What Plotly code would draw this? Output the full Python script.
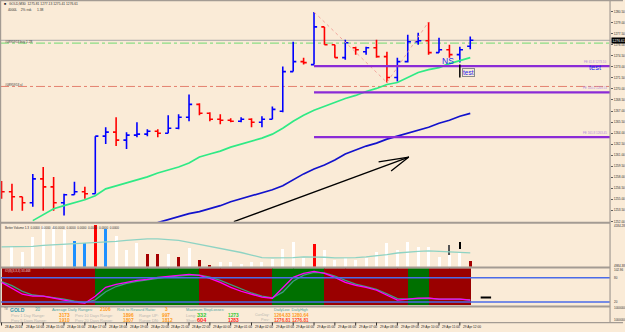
import plotly.graph_objects as go

W, H = 625, 332
BG = "#FAEBD7"
FONT = "Arial"
SEP = "#A39B93"

# ---------------- data ----------------
bar_idx = list(range(46))
opens = [1256.97, 1256.03, 1255.35, 1254.54, 1257.78, 1256.70, 1254.54, 1255.62, 1256.03, 1255.76,
         1263.59, 1264.13, 1263.05, 1263.72, 1263.86, 1264.26, 1263.99, 1264.67, 1266.15, 1267.91,
         1266.69, 1265.88, 1265.75, 1265.61, 1265.88, 1265.48, 1265.88, 1266.96, 1272.36, 1273.71,
         1273.31, 1278.43, 1276.01, 1274.25, 1275.60, 1275.06, 1275.60, 1274.39, 1271.55, 1273.71,
         1276.41, 1276.55, 1274.93, 1275.33, 1274.66, 1275.81]
highs = [1257.51, 1257.11, 1255.35, 1258.46, 1259.40, 1258.05, 1255.76, 1257.38, 1256.70, 1263.59,
         1264.80, 1266.15, 1264.13, 1265.48, 1264.53, 1264.53, 1266.42, 1266.56, 1269.26, 1268.04,
         1266.82, 1266.56, 1266.02, 1266.15, 1266.02, 1266.29, 1267.63, 1273.04, 1276.41, 1274.25,
         1280.46, 1278.43, 1276.01, 1276.68, 1275.74, 1275.74, 1276.68, 1275.06, 1274.25, 1277.36,
         1277.63, 1279.11, 1276.95, 1276.01, 1275.74, 1277.13]
lows = [1255.08, 1253.46, 1253.46, 1254.00, 1253.46, 1253.46, 1252.79, 1255.62, 1255.08, 1255.76,
        1262.51, 1262.24, 1261.83, 1263.45, 1263.59, 1263.45, 1263.99, 1264.53, 1265.61, 1266.42,
        1265.61, 1265.21, 1265.48, 1265.48, 1264.80, 1264.80, 1265.88, 1266.82, 1272.36, 1273.31,
        1273.31, 1276.01, 1274.25, 1273.98, 1274.66, 1274.66, 1274.25, 1270.88, 1271.01, 1273.58,
        1276.01, 1274.66, 1274.93, 1274.25, 1273.58, 1275.41]
closes = [1256.03, 1255.35, 1254.54, 1257.78, 1256.70, 1254.54, 1255.62, 1256.03, 1255.76, 1263.59,
          1264.13, 1263.05, 1263.72, 1263.86, 1264.26, 1263.99, 1264.67, 1266.15, 1267.91, 1266.69,
          1265.88, 1265.75, 1265.61, 1265.88, 1265.48, 1265.88, 1267.23, 1272.36, 1273.71, 1273.58,
          1278.43, 1276.01, 1274.25, 1276.28, 1275.33, 1275.60, 1274.39, 1271.55, 1273.71, 1276.41,
          1276.55, 1274.93, 1275.33, 1274.66, 1275.33, 1276.61]

ma_fast = [None, None, None,
           1252.11, 1252.92, 1253.73, 1254.14, 1254.54, 1254.95, 1255.49, 1256.43, 1256.84, 1257.24,
           1257.65, 1258.05, 1258.59, 1259.00, 1259.40, 1259.94, 1260.75, 1261.16, 1261.56, 1262.10,
           1262.51, 1262.91, 1263.32, 1263.86, 1264.67, 1265.61, 1266.42, 1267.10, 1267.63, 1268.17,
           1268.71, 1269.12, 1269.66, 1270.07, 1270.61, 1270.88, 1271.55, 1272.23, 1272.63, 1272.90,
           1273.44, 1273.85, 1274.25]
ma_slow = [None] * 15 + [
    1251.84, 1252.25, 1252.65, 1253.06, 1253.33, 1253.73, 1254.14, 1254.68, 1255.08, 1255.49,
    1255.89, 1256.30, 1256.84, 1257.65, 1258.46, 1259.13, 1259.67, 1260.35, 1261.16, 1261.70,
    1262.24, 1262.64, 1263.18, 1263.59, 1263.99, 1264.40, 1264.80, 1265.34, 1265.75, 1266.29,
    1266.69]

bid_price = 1276.61
buy_level = 1276.23
sl_level = 1270.34
fe_levels = [1273.10, 1269.53, 1263.45]
fe_labels = ["FE 61.8 1273.10", "FE 100.0 1269.53", "FE 161.8 1263.45"]
fe_start = 30
fibo_x = [30, 37, 41]
fibo_y = [1280.46, 1270.88, 1279.11]
arrow_x = [22.3, 39.1]
arrow_y = [1251.97, 1260.75]
arrow_wing_x = [36.2, 39.1, 37.4]
arrow_wing_y = [1260.08, 1260.75, 1258.86]

price_ticks = [1280.50 - 1.5 * k for k in range(20)]
main_range = [1251.97, 1281.95]

volume = [None, 2000, 1400, 2900, 4000, 4000, 3600, 2500, 2300, 4100,
          3700, 3000, 1600, 2300, 1200, 1200, 1200, 900, 1800, 600,
          130, 400, 400, 230, 400, 400, 700, 1700, 2400, 870,
          2200, 1630, 630, 870, 630, 870, 1470, 2300, 1630, 2400,
          1900, 1970, 970, 1130, 1470, 570]
volume_cls = (['w'] * 7 + ['b', 'b', 'r', 'b'] + ['w'] * 3 + ['d', 'd', 'w', 'd', 'w', 'd', 'd']
              + ['w'] * 9 + ['r'] + ['w'] * 14 + ['d'])
volume_ma = [1950, 1950, 2000, 2000, 2100, 2150, 2250, 2300, 2350, 2400,
             2450, 2500, 2600, 2700, 2750, 2750, 2700, 2600, 2400, 2200,
             2050, 1850, 1650, 1400, 1150, 900, 870, 870, 900, 970,
             970, 930, 870, 870, 900, 970, 1050, 1200, 1350, 1470,
             1520, 1570, 1530, 1470, 1420, 1370]
vol_extra_idx = [43, 44]
vol_extra_base = [1130, 1700]
vol_extra_top = [2130, 2400]
vol_range = [0, 4200]

ind_state = ['dn'] * 9 + ['up'] * 10 + ['dn'] * 7 + ['up'] * 5 + ['dn'] * 8 + ['up'] * 2 + ['dn'] * 4
osc_main = [68.4, 53.7, 38.9, 34.0, 34.0, 29.1, 24.2, 19.3, 16.8, 34.0,
            56.1, 63.5, 68.4, 73.4, 75.8, 80.7, 83.2, 85.7, 88.1, 85.7,
            78.3, 68.4, 56.1, 46.3, 38.9, 31.6, 29.1, 56.1, 80.7, 90.6,
            95.5, 90.6, 80.7, 68.4, 61.1, 56.1, 48.8, 36.5, 24.2, 26.6,
            29.1, 29.1, 26.6, 26.6, 26.6, 24.2]
osc_signal = [70, 60, 46, 37, 34, 31, 27, 22, 18, 25,
              45, 58, 66, 71, 74, 78, 82, 84, 86, 86,
              81, 73, 62, 51, 42, 34, 30, 44, 71, 86,
              93, 92, 84, 73, 64, 58, 51, 40, 28, 27,
              28, 29, 27, 27, 27, 25]
osc_levels = [80, 20]
osc_range = [10.2, 102.9]
osc_proj_x = [46.0, 47.0]
osc_proj_y = [30.8, 30.8]

time_idx = list(range(0, 46, 2))
time_txt = ["28 Apr 2016", "28 Apr 14:00", "28 Apr 15:00", "28 Apr 16:00", "28 Apr 17:00",
            "28 Apr 18:00", "28 Apr 19:00", "28 Apr 20:00", "28 Apr 21:00", "28 Apr 22:00",
            "29 Apr 00:00", "29 Apr 01:00", "29 Apr 02:00", "29 Apr 03:00", "29 Apr 04:00",
            "29 Apr 05:00", "29 Apr 06:00", "29 Apr 07:00", "29 Apr 08:00", "29 Apr 09:00",
            "29 Apr 10:00", "29 Apr 11:00", "29 Apr 12:00"]

# ---------------- geometry helpers ----------------
XR = [-0.148, 58.42]
XDOM = [0, 612 / W]


def py(y):
    return 1 - y / H


def px(x):
    return x / W


fig = go.Figure()

# main panel
fig.add_trace(go.Scatter(x=fibo_x, y=fibo_y, mode="lines",
                         line=dict(color="#F2A59C", width=1, dash="dot"), hoverinfo="skip"))
fig.add_trace(go.Scatter(x=bar_idx, y=ma_fast, mode="lines",
                         line=dict(color="#2FEA85", width=1.7), hoverinfo="skip"))
fig.add_trace(go.Scatter(x=bar_idx, y=ma_slow, mode="lines",
                         line=dict(color="#1212CC", width=1.7), hoverinfo="skip"))
fig.add_trace(go.Scatter(x=arrow_x, y=arrow_y, mode="lines",
                         line=dict(color="#000000", width=1.3), hoverinfo="skip"))
fig.add_trace(go.Scatter(x=arrow_wing_x, y=arrow_wing_y, mode="lines",
                         line=dict(color="#000000", width=1.3), hoverinfo="skip"))
fig.add_trace(go.Ohlc(x=bar_idx, open=opens, high=highs, low=lows, close=closes,
                      increasing=dict(line=dict(color="#0000FF", width=1.6)),
                      decreasing=dict(line=dict(color="#FF0000", width=1.6)),
                      tickwidth=0.3, hoverinfo="skip"))

# volume panel
vcol = {'w': "#FFFFFF", 'b': "#1E90FF", 'r': "#FF0000", 'd': "#A50000"}
fig.add_trace(go.Bar(x=bar_idx, y=volume, marker=dict(color=[vcol[c] for c in volume_cls], line=dict(width=0)),
                     width=0.29, xaxis="x2", yaxis="y2", hoverinfo="skip"))
fig.add_trace(go.Bar(x=vol_extra_idx, y=[t - b for t, b in zip(vol_extra_top, vol_extra_base)],
                     base=vol_extra_base, width=[0.2, 0.12],
                     marker=dict(color=["#555555", "#000000"], line=dict(width=0)),
                     xaxis="x2", yaxis="y2", hoverinfo="skip"))
fig.add_trace(go.Scatter(x=bar_idx, y=volume_ma, mode="lines", line=dict(color="#8ED3C3", width=1.3),
                         xaxis="x2", yaxis="y2", hoverinfo="skip"))

# indicator panel
icol = {'dn': "#9A0000", 'up': "#007000"}
fig.add_trace(go.Bar(x=bar_idx[:len(ind_state)], y=[osc_range[1] - osc_range[0]] * len(ind_state),
                     base=osc_range[0], width=1.03, offset=0,
                     marker=dict(color=[icol[s] for s in ind_state], line=dict(width=0)),
                     xaxis="x3", yaxis="y3", hoverinfo="skip"))
fig.add_trace(go.Scatter(x=bar_idx, y=osc_signal, mode="lines", line=dict(color="#3C9E7E", width=1.3),
                         xaxis="x3", yaxis="y3", hoverinfo="skip"))
fig.add_trace(go.Scatter(x=bar_idx, y=osc_main, mode="lines", line=dict(color="#FF00FF", width=1.3),
                         xaxis="x3", yaxis="y3", hoverinfo="skip"))
fig.add_trace(go.Scatter(x=osc_proj_x, y=osc_proj_y, mode="lines", line=dict(color="#000000", width=2),
                         xaxis="x3", yaxis="y3", hoverinfo="skip"))

shapes = []
# order lines
shapes.append(dict(type="line", xref="x domain", yref="y", x0=0, x1=1, y0=bid_price, y1=bid_price,
                   line=dict(color="#A8A8A8", width=1), layer="below"))
shapes.append(dict(type="line", xref="x domain", yref="y", x0=0, x1=1, y0=buy_level, y1=buy_level,
                   line=dict(color="#6FDB6F", width=1, dash="dashdot"), layer="below"))
shapes.append(dict(type="line", xref="x domain", yref="y", x0=0, x1=1, y0=sl_level, y1=sl_level,
                   line=dict(color="#E4806E", width=1, dash="dashdot"), layer="below"))
for lv in fe_levels:
    shapes.append(dict(type="line", xref="x", yref="y", x0=fe_start, x1=XR[1], y0=lv, y1=lv,
                       line=dict(color="#8A2BD6", width=2.2)))
shapes.append(dict(type="line", xref="x", yref="y", x0=44, x1=44, y0=1271.55, y1=1273.31,
                   line=dict(color="#000000", width=1.5)))
for lv in osc_levels:
    shapes.append(dict(type="line", xref="x3 domain", yref="y3", x0=0, x1=1, y0=lv, y1=lv,
                       line=dict(color="#4A6BE8", width=1.5)))
# panel separators and frame
for yy in [224, 269.2, 308.3]:
    shapes.append(dict(type="line", xref="paper", yref="paper", x0=0, x1=px(612), y0=py(yy), y1=py(yy),
                       line=dict(color=SEP, width=2)))
shapes.append(dict(type="line", xref="paper", yref="paper", x0=0, x1=px(625), y0=py(324.5), y1=py(324.5),
                   line=dict(color=SEP, width=1.2)))
shapes.append(dict(type="line", xref="paper", yref="paper", x0=0, x1=1, y0=py(0.6), y1=py(0.6),
                   line=dict(color=SEP, width=1.2)))
shapes.append(dict(type="line", xref="paper", yref="paper", x0=px(612), x1=px(612), y0=py(0), y1=py(324.5),
                   line=dict(color=SEP, width=1.2)))
shapes.append(dict(type="line", xref="paper", yref="paper", x0=px(0.6), x1=px(0.6), y0=py(0), y1=py(324.5),
                   line=dict(color=SEP, width=1.2)))
# time ticks
for ti in time_idx:
    shapes.append(dict(type="line", xref="x", yref="paper", x0=ti, x1=ti, y0=py(324.5), y1=py(327.5),
                       line=dict(color="#000000", width=0.8)))

ann = []


def txt(x, y, s, size=3.3, color="#303030", xanchor="left", bold=False, xref="paper", yref="paper", **kw):
    if bold:
        s = "<b>" + s + "</b>"
    ann.append(dict(x=x, y=y, xref=xref, yref=yref, text=s, showarrow=False, xanchor=xanchor,
                    yanchor="middle", font=dict(family=FONT, size=size, color=color), **kw))


# header
txt(px(2), py(4.5), "■", size=3.5, color="#202020")
txt(px(7), py(4.5), "GOLD,M30  1275.81 1277.13 1275.41 1276.61", size=3.3)
txt(px(6), py(10.5), "4000L    2% risk      1.38", size=3.3)
txt(px(3), py(42.3), "#0895953 buy 1.28", size=3.2, color="#404040")
txt(px(3), py(85.3), "#0895953 sl", size=3.2, color="#404040")

# FE labels
for lv, lb in zip(fe_levels, fe_labels):
    txt(px(611), lv, lb, size=3.0, color="#B48ADF", xanchor="right", yref="y", yshift=4)

# NS / test
txt(42.9, 1273.75, "NS", size=8.5, color="#1E1EEE", xanchor="center", xref="x", yref="y")
ann.append(dict(x=44.83, y=1272.23, xref="x", yref="y", text="test", showarrow=False,
                font=dict(family=FONT, size=6.5, color="#1E1EEE"), bgcolor=BG,
                bordercolor="#8A8A8A", borderwidth=1, borderpad=0))
txt(57.0, 1272.85, "test", size=7.5, color="#1E1EEE", xanchor="center", xref="x", yref="y")

# current price box
ann.append(dict(x=px(612.5), y=bid_price, xref="paper", yref="y", text="1276.61", showarrow=False,
                xanchor="left", yanchor="middle", bgcolor="#000000",
                font=dict(family=FONT, size=3.4, color="#FFFFFF"), borderpad=0.6))

# volume panel labels
txt(px(3), py(229), "Better Volume 1.3  0.0000  0.0000  400.0000  0.0000  0.0000  0.0000  0.0000  0.0000",
    size=3.0, color="#303030")
txt(px(614), py(227), "4184.28", size=3.0)
txt(px(614), py(267.5), "4984.38", size=3.0)

# indicator labels
txt(px(3), py(273), "IO(8)(3,3,3) 33.468", size=3.0, color="#F0D8D8")
txt(px(614), py(271.5), "102.96", size=3.0)
txt(px(614), py(279.3), "80", size=3.0)
txt(px(614), py(303.7), "20", size=3.0)
txt(px(614), py(309.5), "1000000", size=3.0)
txt(px(614), py(322.3), "1000000", size=3.0)

# info panel
TEAL = "#4DA3A3"
GRAY = "#B9B6B0"
ORNG = "#FF9A1A"
txt(px(2), py(310.5), "TM", size=2.6, color="#707070")
txt(px(8), py(311.8), "GOLD", size=5, color="#2E9AB0", bold=True)
txt(px(33), py(311.8), "30", size=4.5, color=TEAL)
txt(px(50), py(311.8), "Average Daily Ranges:", size=4, color=TEAL)
txt(px(98), py(311.8), "2106", size=4.8, color=ORNG, bold=True)
txt(px(115), py(311.8), "Risk to Reward Ratio:", size=4, color=TEAL)
txt(px(164), py(311.8), "3", size=4.8, color=ORNG, bold=True)
txt(px(185), py(311.6), "Maximum StopLosses:", size=3.8, color=TEAL)
txt(px(273), py(311.6), "DailyLow  DailyHigh", size=3.8, color=TEAL)
# row 2
txt(px(9), py(317.3), "Prev 1 Day Range:", size=4, color=GRAY)
txt(px(57), py(317.3), "3173", size=4.8, color=ORNG, bold=True)
txt(px(73), py(317.3), "Prev 10 Days Range:", size=4, color=GRAY)
txt(px(121), py(317.3), "1896", size=4.8, color=ORNG, bold=True)
txt(px(137), py(317.3), "Range UP:", size=4, color=GRAY)
txt(px(161), py(317.3), "997", size=4.8, color=ORNG, bold=True)
txt(px(185), py(317.3), "Long:", size=4, color=GRAY)
txt(px(196), py(317.4), "332", size=5.6, color="#35C835", bold=True)
txt(px(227), py(317.3), "1273", size=4.8, color="#35C835", bold=True)
txt(px(271.5), py(317.3), "CurrDay:", size=3.6, color=GRAY, xanchor="right")
txt(px(273), py(317.5), "1264.83 1280.64", size=4.6, color=ORNG, bold=True)
# row 3
txt(px(9), py(322.3), "Prev 5 Days Range:", size=4, color=GRAY)
txt(px(57), py(322.3), "1910", size=4.8, color=ORNG, bold=True)
txt(px(73), py(322.3), "Prev 20 Days Range:", size=4, color=GRAY)
txt(px(121), py(322.3), "1807", size=4.8, color=ORNG, bold=True)
txt(px(137), py(322.3), "Range DN:", size=4, color=GRAY)
txt(px(161), py(322.3), "1812", size=4.8, color=ORNG, bold=True)
txt(px(185), py(322.3), "Short:", size=4, color=GRAY)
txt(px(196), py(322.4), "604", size=5.6, color="#FF1A1A", bold=True)
txt(px(227), py(322.3), "1283", size=4.8, color="#FF1A1A", bold=True)
txt(px(271.5), py(322.3), "Prev:", size=3.6, color=GRAY, xanchor="right")
txt(px(273), py(322.3), "1276.81 1276.81", size=4.6, color="#FF4A1A", bold=True)

# time axis labels
for ti, tt in zip(time_idx, time_txt):
    txt(ti, py(328.6), tt, size=3.2, color="#202020", xref="x", xshift=1.2)

axis_common = dict(range=XR, domain=XDOM, visible=False, fixedrange=True)
fig.update_layout(
    width=W, height=H, autosize=False,
    margin=dict(l=0, r=0, t=0, b=0, pad=0),
    paper_bgcolor=BG, plot_bgcolor=BG,
    showlegend=False, barmode="overlay", bargap=0,
    xaxis=dict(**axis_common, anchor="y", rangeslider=dict(visible=False)),
    xaxis2=dict(**axis_common, anchor="y2", matches="x"),
    xaxis3=dict(**axis_common, anchor="y3", matches="x"),
    yaxis=dict(domain=[py(223), py(1)], range=main_range, side="right", anchor="x",
               tickvals=price_ticks, ticktext=["%.2f" % v for v in price_ticks],
               tickfont=dict(family=FONT, size=3.1, color="#303030"),
               ticks="outside", ticklen=2, tickcolor="#606060",
               showgrid=False, zeroline=False, showline=False, fixedrange=True),
    yaxis2=dict(domain=[py(268.3), py(225.5)], range=vol_range, anchor="x2", visible=False,
                showgrid=False, zeroline=False, fixedrange=True),
    yaxis3=dict(domain=[py(307.7), py(270)], range=osc_range, anchor="x3", visible=False,
                showgrid=False, zeroline=False, fixedrange=True),
    shapes=shapes, annotations=ann,
)

fig.write_html("out.html", config={"displayModeBar": False})
